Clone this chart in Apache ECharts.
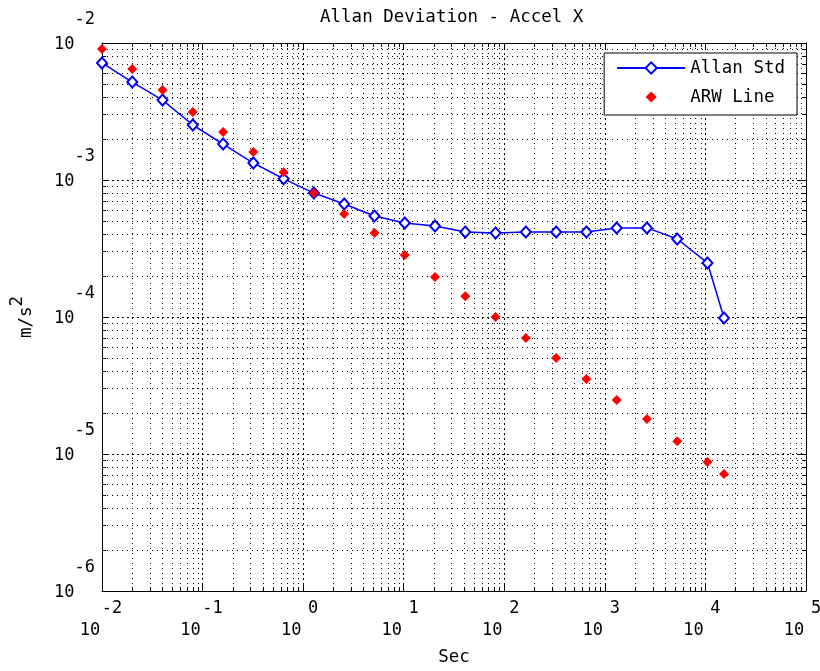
<!DOCTYPE html>
<html>
<head>
<meta charset="utf-8">
<title>Allan Deviation - Accel X</title>
<script src="https://cdn.jsdelivr.net/npm/echarts@6/dist/echarts.min.js"></script>
<style>
  html, body { margin: 0; padding: 0; background: #fff; }
  #main { width: 820px; height: 671px; }
</style>
</head>
<body>
<div id="main"></div>
<script>
// averaging time (s)
const tau = [0.01, 0.02, 0.04, 0.08, 0.16, 0.32, 0.64, 1.28, 2.56, 5.12, 10.24,
  20.48, 40.96, 81.92, 163.84, 327.68, 655.36, 1310.72, 2621.44, 5242.88, 10485.76, 15300]
// m/s^2
const allanStd = [7.15e-3, 5.19e-3, 3.83e-3, 2.52e-3, 1.83e-3, 1.33e-3, 1.02e-3, 8.03e-4,
  6.68e-4, 5.46e-4, 4.85e-4, 4.61e-4, 4.17e-4, 4.10e-4, 4.17e-4, 4.17e-4, 4.17e-4,
  4.47e-4, 4.47e-4, 3.71e-4, 2.48e-4, 9.84e-5]
const arwLine = [9.04e-3, 6.46e-3, 4.54e-3, 3.13e-3, 2.24e-3, 1.60e-3, 1.14e-3, 8.03e-4,
  5.65e-4, 4.10e-4, 2.84e-4, 1.96e-4, 1.42e-4, 1.00e-4, 7.03e-5, 5.02e-5, 3.53e-5,
  2.48e-5, 1.80e-5, 1.24e-5, 8.75e-6, 7.15e-6]

const xTicks = [0.01, 0.1, 1, 10, 100, 1000, 10000, 100000]
const yTicks = [1e-6, 1e-5, 1e-4, 1e-3, 1e-2]

const FONT = 'DejaVu Sans Mono'

// 2..9 inside every decade
function minorOf(majors) {
  const out = []
  for (let i = 0; i < majors.length - 1; i++) {
    for (let k = 2; k <= 9; k++) out.push(majors[i] * k)
  }
  return out
}
const xMinor = minorOf(xTicks)
const yMinor = minorOf(yTicks)

const expOf = v => Math.round(Math.log10(v))

const majorGrid = { show: true, lineStyle: { color: '#000', width: 1, type: [2, 3] } }
const minorGrid = { show: true, lineStyle: { color: '#000', width: 1, type: [1, 4] } }

function makeAxis(dim, gridIndex, position, ticks, len, grid, labels) {
  const range = dim === 'x' ? { min: xTicks[0], max: xTicks[xTicks.length - 1] }
                            : { min: yTicks[0], max: yTicks[yTicks.length - 1] }
  const ax = {
    type: 'log',
    logBase: 10,
    gridIndex,
    position,
    min: range.min,
    max: range.max,
    axisLine: { show: gridIndex === 0, onZero: false, lineStyle: { color: '#000', width: 1 } },
    axisTick: { show: true, inside: true, length: len, customValues: ticks,
                lineStyle: { color: '#000', width: 1 } },
    splitLine: grid || { show: false },
    axisLabel: { show: false },
    splitArea: { show: false }
  }
  if (labels) {
    if (dim === 'x') {
      ax.axisLabel = {
        show: true, customValues: ticks, margin: 7,
        formatter: v => '{e|' + expOf(v) + '}\n{b|10}',
        rich: {
          e: { fontFamily: FONT, fontSize: 17, color: '#000', lineHeight: 22, align: 'center', padding: [0, 0, 0, 20] },
          b: { fontFamily: FONT, fontSize: 17, color: '#000', lineHeight: 22, align: 'center', padding: [0, 24, 0, 0] }
        }
      }
    } else {
      ax.axisLabel = {
        show: true, customValues: ticks, margin: 7,
        formatter: v => '{b|10}{e|' + expOf(v) + '}',
        rich: {
          b: { fontFamily: FONT, fontSize: 17, color: '#000', padding: [4, 0, 0, 0] },
          e: { fontFamily: FONT, fontSize: 17, color: '#000', padding: [0, 0, 46, 0] }
        }
      }
    }
  }
  return ax
}

const xAxes = [
  makeAxis('x', 0, 'bottom', xTicks, 7, majorGrid, true),
  makeAxis('x', 0, 'top', xTicks, 7, null, false),
  makeAxis('x', 1, 'bottom', xMinor, 4, minorGrid, false),
  makeAxis('x', 1, 'top', xMinor, 4, null, false)
]
Object.assign(xAxes[0], {
  name: 'Sec', nameLocation: 'middle', nameGap: 57,
  nameTextStyle: { fontFamily: FONT, fontSize: 17.5, color: '#000' }
})

const yAxes = [
  makeAxis('y', 0, 'left', yTicks, 7, majorGrid, true),
  makeAxis('y', 0, 'right', yTicks, 7, null, false),
  makeAxis('y', 1, 'left', yMinor, 4, minorGrid, false),
  makeAxis('y', 1, 'right', yMinor, 4, null, false)
]
Object.assign(yAxes[0], {
  name: '{m|m/s}{s|2}', nameLocation: 'middle', nameGap: 58, nameRotate: 90,
  nameTextStyle: {
    rich: {
      m: { fontFamily: FONT, fontSize: 17.5, color: '#000' },
      s: { fontFamily: FONT, fontSize: 17.5, color: '#000', padding: [0, 0, 18, 0] }
    }
  }
})

const gridRect = { left: 102, right: 14, top: 43, bottom: 80, containLabel: false, outerBoundsMode: 'none' }

const option = {
  animation: false,
  backgroundColor: '#fff',
  title: {
    text: 'Allan Deviation - Accel X',
    left: 320, top: 8, padding: 0,
    textStyle: { fontFamily: FONT, fontSize: 17.5, fontWeight: 'normal', color: '#000' }
  },
  legend: {
    orient: 'vertical',
    right: 23, top: 53,
    padding: [6, 12, 9, 12],
    itemWidth: 68, itemHeight: 14, itemGap: 11,
    borderColor: '#000', borderWidth: 1, backgroundColor: '#fff',
    textStyle: { fontFamily: FONT, fontSize: 17.5, color: '#000' },
    data: ['Allan Std', 'ARW Line']
  },
  grid: [Object.assign({}, gridRect), Object.assign({}, gridRect)],
  xAxis: xAxes,
  yAxis: yAxes,
  series: [
    {
      name: 'Allan Std',
      type: 'line',
      xAxisIndex: 0, yAxisIndex: 0,
      data: tau.map((t, i) => [t, allanStd[i]]),
      symbol: 'emptyDiamond',
      symbolSize: [10, 11],
      showAllSymbol: true,
      clip: false,
      lineStyle: { color: '#0000ff', width: 1.5 },
      itemStyle: { color: '#0000ff', borderWidth: 1.2 },
      z: 3
    },
    {
      name: 'ARW Line',
      type: 'line',
      xAxisIndex: 0, yAxisIndex: 0,
      data: tau.map((t, i) => [t, arwLine[i]]),
      symbol: 'diamond',
      symbolSize: 10,
      showAllSymbol: true,
      clip: false,
      lineStyle: { width: 0, opacity: 0 },
      itemStyle: { color: '#ff0000' },
      z: 4
    }
  ]
}

const myChart = echarts.init(document.getElementById('main'), null, { renderer: 'canvas' })
myChart.setOption(option)
</script>
</body>
</html>
